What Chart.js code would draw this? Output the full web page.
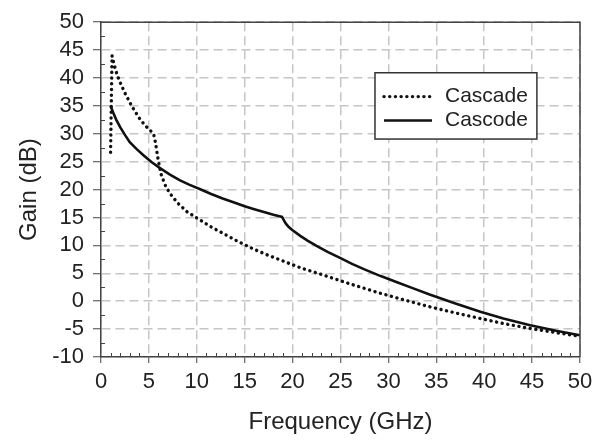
<!DOCTYPE html>
<html>
<head>
<meta charset="utf-8">
<script src="https://cdn.jsdelivr.net/npm/chart.js@4.4.1/dist/chart.umd.min.js"></script>
<style>
  html, body { margin: 0; padding: 0; background: #fff; }
  #wrap { width: 603px; height: 441px; }
</style>
</head>
<body>
<div id="wrap"><canvas id="gainChart" width="603" height="441"></canvas></div>
<script>
// values (GHz, dB)
const cascadeFreq = [1.0, 1.15, 1.4, 1.7, 2.0, 2.5, 3.2, 4.0, 4.6, 5.2, 5.5, 5.7, 5.85, 6.0, 6.3, 6.7, 7.2, 8.0, 9.0, 10.3, 11.5, 12.8, 14.2, 15.6, 17.2, 19.0, 20.8, 23, 26, 29, 31.5, 34.3, 37, 39.6, 42, 44.8, 47.4, 50];
const cascadeGain = [26.7, 44.0, 42.2, 40.5, 39.2, 37.3, 35.0, 32.8, 31.5, 30.5, 29.9, 28.3, 26.6, 25.0, 22.6, 20.8, 19.3, 17.6, 16.0, 14.6, 13.3, 12.1, 10.8, 9.6, 8.4, 7.2, 6.0, 4.8, 3.1, 1.5, 0.3, -1.0, -2.1, -3.1, -4.0, -4.9, -5.6, -6.3];

const cascodeFreq = [1.0, 1.3, 1.6, 2.0, 2.5, 3.0, 3.7, 4.4, 5.3, 6.2, 7.2, 8.2, 9.2, 10.3, 11.5, 12.7, 13.9, 15.0, 16.0, 17.0, 18.0, 18.9, 19.05, 19.3, 19.6, 20.0, 20.8, 21.6, 22.5, 23.7, 24.9, 26.2, 27.5, 29.2, 30.9, 32.6, 34.3, 37, 39.6, 42, 44.8, 47.5, 50];
const cascodeGain = [35.0, 33.7, 32.5, 31.2, 29.8, 28.5, 27.3, 26.2, 24.9, 23.8, 22.7, 21.7, 20.9, 20.1, 19.2, 18.4, 17.7, 17.0, 16.5, 16.0, 15.5, 15.1, 14.6, 13.9, 13.3, 12.7, 11.7, 10.8, 9.9, 8.8, 7.8, 6.7, 5.7, 4.5, 3.4, 2.3, 1.2, -0.4, -1.9, -3.1, -4.3, -5.3, -6.1];

const seriesNames = ['Cascade', 'Cascode'];
const xTicks = [0, 50, 5];   // min, max, step
const yTicks = [-10, 50, 5];

const toPoints = (xs, ys) => xs.map((x, i) => ({x: x, y: ys[i]}));

const FONT = "'Liberation Sans', Arial, sans-serif";
const TEXT = '#222';

// frame, minor ticks and the boxed legend
const extras = {
  id: 'extras',
  afterDraw(chart) {
    const ctx = chart.ctx;
    const a = chart.chartArea;
    const xs = chart.scales.x, ys = chart.scales.y;
    ctx.save();
    ctx.strokeStyle = '#444';
    ctx.lineWidth = 1.5;
    ctx.beginPath();
    ctx.moveTo(a.left, a.top); ctx.lineTo(a.right, a.top); ctx.lineTo(a.right, a.bottom);
    ctx.stroke();

    ctx.lineWidth = 1;
    ctx.beginPath();
    for (let v = xTicks[0] + 1; v < xTicks[1]; v++) {
      if (v % xTicks[2] === 0) continue;
      const px = Math.round(xs.getPixelForValue(v)) + 0.5;
      ctx.moveTo(px, a.bottom); ctx.lineTo(px, a.bottom - 4);
    }
    for (let v = yTicks[0] + 2.5; v < yTicks[1]; v += 5) {
      const py = Math.round(ys.getPixelForValue(v)) + 0.5;
      ctx.moveTo(a.left, py); ctx.lineTo(a.left + 4, py);
    }
    ctx.stroke();

    // legend
    const w = a.right - a.left, h = a.bottom - a.top;
    const bx = a.left + 0.572 * w, by = a.top + 0.151 * h;
    const bw = 0.338 * w, bh = 0.198 * h;
    ctx.fillStyle = '#fff';
    ctx.fillRect(bx, by, bw, bh);
    ctx.strokeStyle = '#333';
    ctx.lineWidth = 1.5;
    ctx.strokeRect(bx, by, bw, bh);
    chart.data.datasets.forEach((ds, i) => {
      const ry = by + bh * (0.36 + 0.36 * i);
      ctx.save();
      ctx.strokeStyle = ds.borderColor;
      ctx.lineWidth = ds.borderWidth;
      ctx.lineCap = ds.borderCapStyle || 'butt';
      ctx.setLineDash(ds.borderDash || []);
      ctx.beginPath();
      ctx.moveTo(bx + 9, ry); ctx.lineTo(bx + 57, ry);
      ctx.stroke();
      ctx.restore();
      ctx.fillStyle = TEXT;
      ctx.font = '21px ' + FONT;
      ctx.textBaseline = 'middle';
      ctx.fillText(ds.label, bx + 70, ry);
    });
    ctx.restore();
  }
};

new Chart(document.getElementById('gainChart'), {
  type: 'line',
  data: {
    datasets: [{
      label: seriesNames[0],
      data: toPoints(cascadeFreq, cascadeGain),
      borderColor: '#111',
      borderWidth: 3.4,
      borderDash: [0.1, 5.6],
      borderCapStyle: 'round',
      pointRadius: 0,
      tension: 0,
      fill: false
    }, {
      label: seriesNames[1],
      data: toPoints(cascodeFreq, cascodeGain),
      borderColor: '#111',
      borderWidth: 2.6,
      pointRadius: 0,
      tension: 0,
      fill: false
    }]
  },
  options: {
    responsive: false,
    animation: false,
    layout: { padding: { top: 19, right: 23, left: 0, bottom: 0 } },
    plugins: {
      legend: { display: false },
      tooltip: { enabled: false }
    },
    scales: {
      x: {
        type: 'linear',
        min: xTicks[0], max: xTicks[1],
        afterFit: (s) => { s.height = 84; },
        ticks: { stepSize: xTicks[2], autoSkip: false, color: TEXT, padding: 6, font: { family: FONT, size: 22 } },
        grid: { color: '#c6c6c6', lineWidth: 1.5, tickColor: '#444', tickLength: 6, tickWidth: 1 },
        border: { color: '#444', width: 1.5, dash: [9, 5] },
        title: { display: true, text: 'Frequency (GHz)', color: TEXT, padding: { top: 0, bottom: 4 }, font: { family: FONT, size: 24 } }
      },
      y: {
        min: yTicks[0], max: yTicks[1],
        afterFit: (s) => { s.width = 101; },
        ticks: { stepSize: yTicks[2], autoSkip: false, color: TEXT, padding: 9, font: { family: FONT, size: 22 } },
        grid: { color: '#c6c6c6', lineWidth: 1.5, tickColor: '#444', tickLength: 8, tickWidth: 1 },
        border: { color: '#444', width: 1.5, dash: [9, 5] },
        title: { display: true, text: 'Gain (dB)', color: TEXT, padding: { top: 15, bottom: 0 }, font: { family: FONT, size: 24 } }
      }
    }
  },
  plugins: [extras]
});
</script>
</body>
</html>
